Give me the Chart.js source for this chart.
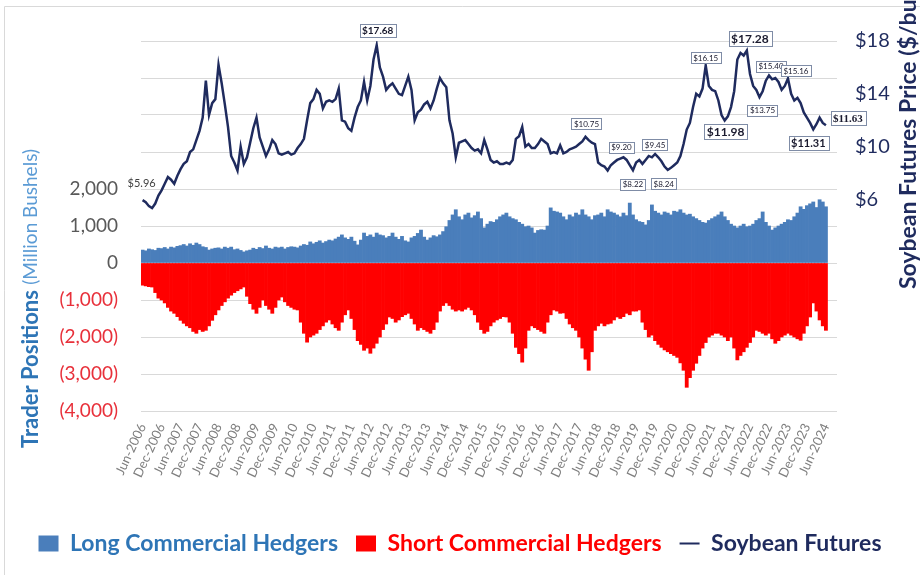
<!DOCTYPE html>
<html><head><meta charset="utf-8">
<script src="https://cdn.jsdelivr.net/npm/chart.js@4.4.1/dist/chart.umd.min.js"></script>
<style>html,body{margin:0;padding:0;background:#fff;}#wrap{width:920px;height:575px;position:relative;}</style>
</head><body><div id="wrap"><canvas id="c" width="920" height="575"></canvas></div>
<script>
// Monthly categories Jun-2006 .. Sep-2024 (last three months are empty axis room)
const monthNames = ['Jan','Feb','Mar','Apr','May','Jun','Jul','Aug','Sep','Oct','Nov','Dec'];
const categories = [];
for (let y = 2006, m = 5; y < 2024 || (y === 2024 && m <= 8); m++) {
  if (m === 12) { m = 0; y++; }
  categories.push(monthNames[m] + '-' + y);
}
// Tick labels shown on the axis: every Jun and Dec
const tickLabels = categories.filter(c => c.startsWith('Jun') || c.startsWith('Dec'));

// Soybean futures price ($/bu), monthly
const soybeanPrice = [
5.96,5.8,5.5,5.35,5.7,6.3,6.7,
7.2,7.7,7.5,7.2,7.8,8.3,8.7,8.9,9.6,9.8,10.5,11.2,
12.2,15.0,12.4,13.3,13.6,16.2,14.8,13.2,11.5,9.3,8.8,8.2,
10.0,8.7,9.2,10.3,11.4,12.2,10.7,10.0,9.3,9.8,10.5,10.2,
9.5,9.4,9.5,9.6,9.4,9.5,9.9,10.2,10.6,12.0,13.3,13.6,
14.3,14.0,12.9,13.4,13.5,13.4,13.6,14.4,12.0,11.9,11.4,11.2,
12.2,13.0,13.5,14.9,13.5,14.6,16.6,17.68,16.0,15.3,14.3,14.6,
14.8,14.4,14.0,13.9,14.6,15.3,14.3,12.0,12.6,12.8,13.2,13.4,
12.9,13.5,14.4,15.2,14.8,14.5,12.0,11.0,9.2,10.3,10.4,10.5,
10.2,9.9,9.7,9.8,9.5,10.5,9.8,9.0,8.8,8.9,8.7,8.7,
8.8,8.7,9.0,10.6,10.8,11.5,10.0,10.2,9.9,9.9,10.2,10.6,
10.4,10.2,9.5,9.6,9.5,10.1,9.5,9.6,9.8,9.9,10.0,10.2,
10.4,10.75,10.5,10.3,10.2,8.8,8.6,8.5,8.2,8.6,8.8,9.0,
9.1,9.2,9.0,8.6,8.22,8.8,9.0,8.7,9.0,9.3,9.2,9.45,
9.2,8.9,8.5,8.24,8.4,8.6,8.8,9.3,10.2,11.3,11.8,13.0,
14.0,13.8,14.4,16.15,14.6,14.3,14.2,13.5,12.4,11.98,12.3,13.0,
14.2,16.6,17.1,16.9,17.28,15.5,14.6,14.3,13.75,14.2,15.0,15.40,
15.1,15.2,14.9,14.3,14.6,15.16,14.0,13.5,13.7,13.3,12.6,12.2,
11.8,11.31,11.7,12.2,11.8,11.63
];

// Long commercial hedgers (million bushels), monthly
const longHedgers = [
350,330,380,360,340,400,390,420,380,430,410,450,
470,500,460,520,480,540,500,440,420,350,380,400,
410,380,430,400,430,360,380,340,300,330,350,400,
370,420,390,460,400,380,430,410,430,380,420,440,
430,410,460,500,480,570,520,560,600,540,580,620,
600,650,700,760,680,640,700,590,490,620,810,720,
760,700,810,760,740,680,720,810,700,640,720,600,
570,680,720,800,890,700,620,680,740,710,760,850,
980,1150,1300,1440,1250,1170,1300,1350,1220,1280,1380,1200,
950,1050,1120,1100,1170,1250,1300,1350,1250,1200,1170,1100,
1050,980,1000,950,810,880,900,890,1000,1490,1400,1380,
1350,1250,1170,1300,1250,1350,1300,1440,1300,1250,1170,1280,
1300,1350,1250,1440,1380,1350,1300,1250,1350,1280,1620,1300,
1170,1120,1100,1030,1150,1570,1400,1350,1300,1380,1350,1300,
1400,1380,1440,1350,1300,1320,1250,1200,1150,1100,1080,1150,
1200,1250,1300,1380,1250,1150,1050,1000,950,1000,1050,980,
1000,1050,1150,1200,1380,1100,1000,890,950,1000,1050,1100,
1170,1150,1250,1350,1520,1450,1550,1600,1650,1500,1710,1650,
1520
];

// Short commercial hedgers (million bushels), monthly
const shortHedgers = [
-600,-620,-640,-650,-800,-950,-1000,-1080,-1200,-1300,-1360,-1450,
-1550,-1630,-1700,-1750,-1850,-1900,-1800,-1850,-1820,-1700,-1550,-1400,
-1270,-1150,-1050,-950,-870,-800,-750,-700,-650,-900,-1100,-1250,
-1360,-1200,-1000,-1150,-1250,-1360,-1200,-1000,-920,-1050,-1150,-1200,
-1250,-1270,-1600,-1900,-2140,-2000,-1950,-1900,-1800,-1700,-1600,-1540,
-1650,-1750,-1820,-1600,-1400,-1270,-1500,-1800,-2100,-2200,-2360,-2300,
-2440,-2300,-2170,-2000,-1800,-1650,-1460,-1500,-1600,-1540,-1450,-1400,
-1360,-1500,-1650,-1820,-1750,-1800,-1850,-1900,-1800,-1600,-1300,-1150,
-1080,-1150,-1250,-1300,-1270,-1300,-1250,-1200,-1270,-1400,-1600,-1800,
-1900,-1850,-1700,-1600,-1540,-1500,-1450,-1460,-1600,-1900,-2280,-2450,
-2680,-2300,-1820,-1700,-1750,-1800,-1850,-1900,-1600,-1400,-1270,-1300,
-1360,-1350,-1500,-1650,-1750,-1820,-2000,-2300,-2600,-2900,-2400,-1820,
-1700,-1630,-1700,-1650,-1630,-1540,-1460,-1500,-1450,-1360,-1400,-1300,
-1300,-1270,-1600,-1800,-2000,-1950,-2100,-2200,-2280,-2350,-2400,-2450,
-2500,-2550,-2700,-2900,-3360,-3100,-2900,-2710,-2500,-2300,-2150,-2000,
-1950,-1900,-1900,-1950,-2000,-2100,-2000,-2300,-2620,-2500,-2400,-2280,
-2150,-2000,-1820,-1850,-1900,-1950,-1900,-2050,-2170,-2100,-2000,-1950,
-1900,-1950,-2000,-2050,-2090,-1900,-1700,-1460,-1080,-1300,-1540,-1700,
-1820
];

// Price call-outs: which months get a labelled price
const calloutIndex = [0, 74, 140, 152, 155, 162, 166, 178, 184, 191, 195, 198, 204, 212, 216];
// Call-out styling (offset from point, font size, bold, boxed, serif)
const calloutStyle = [
  {dx:-1, dy:-17, size:11, bold:false, box:false},
  {dx:1, dy:-15, size:10, bold:true, box:true},
  {dx:1, dy:-13, size:8, bold:false, box:true},
  {dx:-2, dy:-10, size:8, bold:false, box:true},
  {dx:0, dy:14, size:8, bold:false, box:true},
  {dx:0, dy:-9, size:8, bold:false, box:true},
  {dx:-4, dy:14, size:8, bold:false, box:true},
  {dx:0, dy:-8, size:8, bold:false, box:true},
  {dx:1, dy:11, size:12, bold:true, box:true},
  {dx:3, dy:-12, size:12, bold:true, box:true},
  {dx:3, dy:13, size:8, bold:false, box:true},
  {dx:2, dy:-9, size:8, bold:false, box:true},
  {dx:8, dy:-8, size:8, bold:false, box:true},
  {dx:-5, dy:14, size:11, bold:true, box:true},
  {dx:22, dy:-7, size:11, bold:true, box:true, serif:true}
];

const BLUE = '#4A7EBB', RED = '#FF0000', NAVY = '#1F2B5E';

const overlay = {
  id: 'overlay',
  beforeDraw(chart) {
    const c = chart.ctx;
    c.save();
    c.strokeStyle = '#D9D9D9'; c.lineWidth = 1;
    c.beginPath(); c.moveTo(4.5, 575); c.lineTo(4.5, 6.5); c.lineTo(920, 6.5); c.stroke();
    c.restore();
  },
  afterDraw(chart) {
    const c = chart.ctx;
    const xs = chart.scales.x, ys = chart.scales.y1;
    c.save();
    // price call-outs
    calloutIndex.forEach((idx, k) => {
      const st = calloutStyle[k];
      const txt = '$' + soybeanPrice[idx].toFixed(2);
      const px = xs.getPixelForValue(idx) + st.dx;
      const py = ys.getPixelForValue(soybeanPrice[idx]) + st.dy;
      c.font = (st.bold ? 'bold ' : '') + st.size + 'px ' + (st.serif ? '"Liberation Serif"' : 'Lato');
      const w = c.measureText(txt).width;
      if (st.box) {
        const bw = w + 5, bh = st.size + 3;
        c.fillStyle = '#FFFFFF';
        c.fillRect(Math.round(px - bw/2) + 0.5, Math.round(py - bh/2) + 0.5, Math.round(bw), Math.round(bh));
        c.strokeStyle = '#7F8CA6'; c.lineWidth = 1;
        c.strokeRect(Math.round(px - bw/2) + 0.5, Math.round(py - bh/2) + 0.5, Math.round(bw), Math.round(bh));
      }
      c.fillStyle = st.box ? '#1A1A2E' : '#404040';
      c.textAlign = 'center'; c.textBaseline = 'middle';
      c.fillText(txt, px, py + 0.5);
    });
    // left axis title
    c.save();
    c.translate(31, 448);
    c.rotate(-Math.PI / 2);
    c.textBaseline = 'middle'; c.textAlign = 'left';
    c.font = 'bold 22px Lato';
    c.fillStyle = '#2E75B6';
    const t1 = 'Trader Positions ';
    c.fillText(t1, 0, 0);
    const w1 = c.measureText(t1).width;
    c.font = '19px Lato';
    c.fillStyle = '#5B9BD5';
    c.fillText('(Million Bushels)', w1, 0);
    c.restore();
    // right axis title
    c.save();
    c.translate(909, 289);
    c.rotate(-Math.PI / 2);
    c.textBaseline = 'middle'; c.textAlign = 'left';
    c.font = 'bold 23px Lato';
    c.fillStyle = NAVY;
    c.fillText('Soybean Futures Price ($/bu)', 0, 0);
    c.restore();
    c.restore();
  }
};

new Chart(document.getElementById('c'), {
  data: {
    labels: categories,
    datasets: [
      { type: 'line', label: 'Soybean Futures', data: soybeanPrice, yAxisID: 'y1',
        borderColor: NAVY, backgroundColor: NAVY, borderWidth: 2.5, pointRadius: 0, tension: 0, order: 0 },
      { type: 'bar', label: 'Long Commercial Hedgers', data: longHedgers, yAxisID: 'y',
        backgroundColor: BLUE, borderWidth: 0, barPercentage: 1, categoryPercentage: 1, grouped: false, order: 2 },
      { type: 'bar', label: 'Short Commercial Hedgers', data: shortHedgers, yAxisID: 'y',
        backgroundColor: RED, borderWidth: 0, barPercentage: 1, categoryPercentage: 1, grouped: false, order: 1 }
    ]
  },
  options: {
    responsive: false, animation: false,
    layout: { padding: { top: 41, bottom: 10, left: 0, right: 0 } },
    plugins: {
      tooltip: { enabled: false },
      legend: {
        position: 'bottom',
        labels: {
          usePointStyle: true, pointStyleWidth: 20, boxHeight: 16, padding: 18,
          font: { family: 'Lato', size: 23, weight: 'bold' },
          generateLabels: () => [
            { text: 'Long Commercial Hedgers', fillStyle: BLUE, strokeStyle: BLUE, lineWidth: 0, pointStyle: 'rect', fontColor: '#2E75B6', datasetIndex: 1 },
            { text: 'Short Commercial Hedgers', fillStyle: RED, strokeStyle: RED, lineWidth: 0, pointStyle: 'rect', fontColor: '#FF0000', datasetIndex: 2 },
            { text: 'Soybean Futures', fillStyle: NAVY, strokeStyle: NAVY, lineWidth: 2, pointStyle: 'line', fontColor: NAVY, datasetIndex: 0 }
          ]
        }
      }
    },
    scales: {
      x: {
        offset: true,
        grid: { display: false, drawTicks: false }, border: { display: false },
        ticks: { autoSkip: false, minRotation: 65, maxRotation: 65, padding: 10,
          font: { family: 'Lato', size: 13 }, color: '#7F7F7F',
          callback: (v, i) => tickLabels.includes(categories[i]) ? categories[i] : '' },
        afterFit: s => { s.height = 103; }
      },
      y: {
        position: 'left', min: -4000, max: 6000,
        grid: { color: '#D9D9D9', drawTicks: false }, border: { display: false },
        ticks: { stepSize: 1000, padding: 23, font: { family: 'Lato', size: 19 },
          color: ctx => (ctx.tick && ctx.tick.value < 0) ? '#E8303A' : '#595959',
          callback: v => v > 2000 ? '' : (v < 0 ? '(' + Math.abs(v).toLocaleString('en-US') + ')' : v.toLocaleString('en-US')) },
        afterFit: s => { s.width = 141; }
      },
      y1: {
        position: 'right', min: -10, max: 18,
        grid: { display: false, drawTicks: false }, border: { display: false },
        ticks: { stepSize: 4, padding: 18, font: { family: 'Lato', size: 20 }, color: NAVY,
          callback: v => v >= 6 ? '$' + v : '' },
        afterFit: s => { s.width = 83; }
      }
    }
  },
  plugins: [overlay]
});
</script>
</body></html>
